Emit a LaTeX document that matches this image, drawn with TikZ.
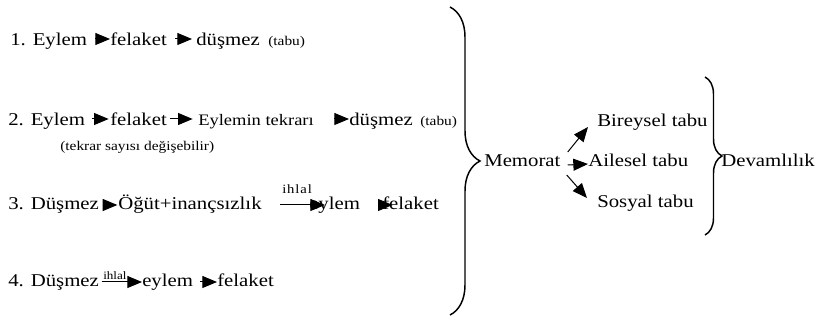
\documentclass[tikz,border=0pt]{standalone}
\usepackage{fontspec}
\setmainfont{Liberation Serif}[FakeStretch=1.155]
\usetikzlibrary{arrows.meta,decorations.pathreplacing}

\begin{document}
\begin{tikzpicture}[
    x=0.75pt, y=-0.75pt,
    word/.style={inner sep=0pt, anchor=base west, text height=12pt, text depth=1.5pt, font=\fontsize{13.5}{16}\selectfont},
    note/.style={inner sep=0pt, anchor=base west, font=\fontsize{10}{12}\selectfont},
    tag/.style={inner sep=0pt, anchor=base west, font=\fontsize{8.5}{10}\selectfont},
    arrow/.style={-{Triangle[length=11pt, width=9pt]}, line width=0.75pt},
    lowarrow/.style={arrow, transform canvas={yshift=-1.5pt}},
    bracket/.style={decorate, decoration={brace, amplitude=#1}, line width=1.1pt}
]
\useasboundingbox (0,0) rectangle (815,320);

% Line 1
\node[word] (l1eylem) at (10,46) {1. Eylem};
\node[word] (l1felaket) at (110,46) {felaket};
\node[word] (l1dusmez) at (196,46) {düşmez};
\node[note] (l1tabu) at (268,46) {(tabu)};

% Line 2
\node[word] (l2eylem) at (8,126) {2. Eylem};
\node[word] (l2felaket) at (110,126) {felaket};
\node[word, font=\fontsize{12}{15}\selectfont] (l2tekrar) at (198,126) {Eylemin tekrarı};
\node[word] (l2dusmez) at (349,126) {düşmez};
\node[note] (l2tabu) at (420,126) {(tabu)};
\node[note] (l2sayi) at (60,151) {(tekrar sayısı değişebilir)};

% Line 3
\node[word] (l3dusmez) at (8,210) {3. Düşmez};
\node[word] (l3ogut) at (118,210) {Öğüt+inançsızlık};
\node[tag, font=\fontsize{9.5}{10}\selectfont\addfontfeature{LetterSpace=7}] (l3ihlal) at (282,194) {ihlal};
\node[word] (l3eylem) at (309,210) {eylem};
\node[word] (l3felaket) at (382,210) {felaket};

% Line 4
\node[word] (l4dusmez) at (8,287) {4. Düşmez};
\node[tag] (l4ihlal) at (103,280) {ihlal};
\node[word] (l4eylem) at (142,287) {eylem};
\node[word] (l4felaket) at (217,287) {felaket};

% Right side
\node[word] (memorat) at (484,167) {Memorat};
\node[word] (bireysel) at (597,127) {Bireysel tabu};
\node[word] (ailesel) at (588,167) {Ailesel tabu};
\node[word] (sosyal) at (597,208) {Sosyal tabu};
\node[word] (devam) at (721,167) {Devamlılık};

% Arrows
\draw[arrow, shorten <=6pt] (l1eylem.east) -- (l1felaket.west);
\draw[arrow, shorten <=6pt, shorten >=3pt] (l1felaket.east) -- (l1dusmez.west);

\draw[arrow, shorten <=5pt, shorten >=1pt] (l2eylem.east) -- (l2felaket.west);
\draw[arrow, shorten <=2pt, shorten >=4pt] (l2felaket.east) -- (l2tekrar.west);
\draw[arrow, shorten <=15pt] (l2tekrar.east) -- (l2dusmez.west);

\draw[lowarrow, shorten <=3pt, shorten >=0.5pt] (l3dusmez.east) -- (l3ogut.west);
\draw[lowarrow, shorten <=13.5pt, shorten >=-12pt] (l3ogut.east) -- (l3eylem.west);
\draw[lowarrow, shorten <=13.5pt, shorten >=-8pt] (l3eylem.east) -- (l3felaket.west);

\draw[lowarrow, shorten <=2pt] (l4dusmez.east) -- (l4eylem.west);
\draw[lowarrow, shorten <=5pt] (l4eylem.east) -- (l4felaket.west);

\draw[arrow] ([shift={(7,-8)}]memorat.east) -- ([shift={(-9,7)}]bireysel.west);
\draw[arrow] ([shift={(7,5)}]memorat.east) -- ([shift={(0,4)}]ailesel.west);
\draw[arrow] ([shift={(6,15)}]memorat.east) -- ([shift={(-10,-3)}]sosyal.west);

% Braces
\coordinate (b1top) at (450,7);
\coordinate (b1bot) at (450,315);
\draw[bracket=22.5pt] (b1top) -- (b1bot);
\coordinate (b2top) at (705,77);
\coordinate (b2bot) at (705,235);
\draw[bracket=12.75pt] (b2top) -- (b2bot);
\end{tikzpicture}
\end{document}
